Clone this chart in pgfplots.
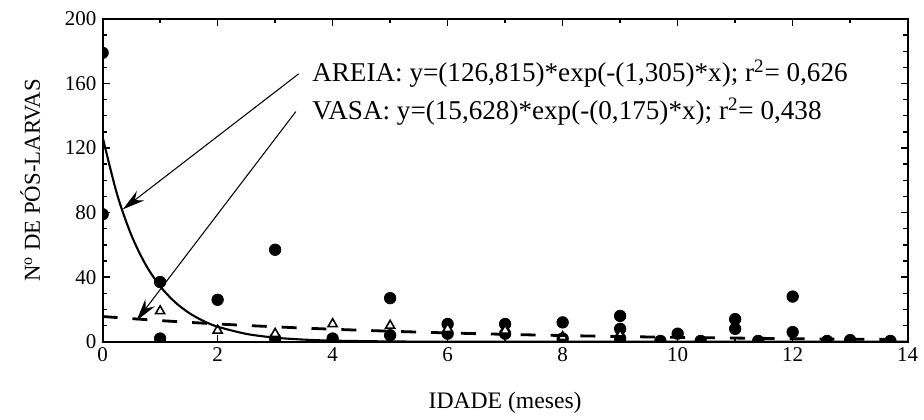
\documentclass[border=0pt]{standalone}
\usepackage{fontspec}
\setmainfont{Liberation Serif}
\usepackage{pgfplots}
\pgfplotsset{compat=1.18}
\usetikzlibrary{arrows.meta}
\begin{document}
\begin{tikzpicture}
\begin{axis}[
  scale only axis,
  width=16.16cm, height=6.48cm,
  xmin=0, xmax=14, ymin=0, ymax=200,
  xtick={0,2,...,14}, ytick={0,40,...,200},
  minor x tick num=1, minor y tick num=3,
  axis line style={line width=1.1pt},
  every tick/.style={black, line width=0.8pt},
  major tick length=4pt, minor tick length=2.5pt,
  /pgf/number format/assume math mode=true,
  ticklabel style={font=\large},
  xlabel={IDADE (meses)},
  ylabel={N\textsuperscript{o} DE PÓS-LARVAS},
  xlabel style={at={(axis description cs:0.5,0)}, anchor=center, yshift=-1.22cm, font=\fontsize{13.5}{16}\selectfont},
  ylabel style={at={(axis description cs:-0.09,0.5)}, anchor=center, font=\fontsize{13}{15}\selectfont},
  clip marker paths=true,
]
% AREIA observations
\addplot[only marks, mark=*, mark size=3.3pt, black] coordinates {
 (0,179) (0,79) (1,37) (1,2) (2,26) (3,57) (3,2) (4,2) (5,27) (5,4)
 (6,11) (6,5) (7,11) (7,5) (8,12) (8,2) (9,16) (9,8) (9,2) (10,5)
 (11,14) (11,8) (12,28) (12,6) (9.7,0.5) (10.4,0.5) (11.4,0.5)
 (12.6,0.5) (13,1) (13.7,0.5)
};
% VASA observations
\addplot[only marks, mark=triangle*, mark size=3pt, black, mark options={fill=white, line width=0.9pt}] coordinates {
 (1,19) (2,7) (3,5) (4,11) (5,10) (6,8) (7,7) (8,3) (9,4)
};
% AREIA fit
\addplot[smooth, line width=1.2pt, black] coordinates {
 (0,126.82) (0.25,91.51) (0.5,66.03) (0.75,47.65) (1,34.39) (1.25,24.82)
 (1.5,17.91) (1.75,12.92) (2,9.32) (2.5,4.86) (3,2.53) (3.5,1.32)
 (4,0.69) (5,0.19) (6,0.05) (8,0.004) (14,0)
};
% VASA fit
\addplot[smooth, line width=1.6pt, black, dash pattern=on 0.3cm off 0.3cm] coordinates {
 (0,15.63) (1,13.12) (2,11.01) (3,9.25) (4,7.76) (5,6.52) (6,5.47) (7,4.59)
 (8,3.85) (9,3.24) (10,2.72) (11,2.28) (12,1.91) (13,1.61) (14,1.35)
};
\draw[line width=0.6pt, -{Stealth[length=4.5mm,width=2.4mm]}] (axis cs:3.41,166) -- (axis cs:0.35,82);
\draw[line width=0.6pt, -{Stealth[length=4.5mm,width=2.4mm]}] (axis cs:3.36,142.6) -- (axis cs:0.59,13.1);
\node[anchor=west, font=\fontsize{15.5}{18}\selectfont, inner sep=0pt] at (axis cs:3.64,166) {AREIA: y=(126,815)*exp(-(1,305)*x); r\textsuperscript{2}= 0,626};
\node[anchor=west, font=\fontsize{15.5}{18}\selectfont, inner sep=0pt] at (axis cs:3.64,142.6) {VASA: y=(15,628)*exp(-(0,175)*x); r\textsuperscript{2}= 0,438};
\end{axis}
\path ([xshift=-2.06cm,yshift=-1.42cm]current axis.south west) rectangle ([xshift=0.26cm,yshift=0.38cm]current axis.north east);
\end{tikzpicture}
\end{document}
